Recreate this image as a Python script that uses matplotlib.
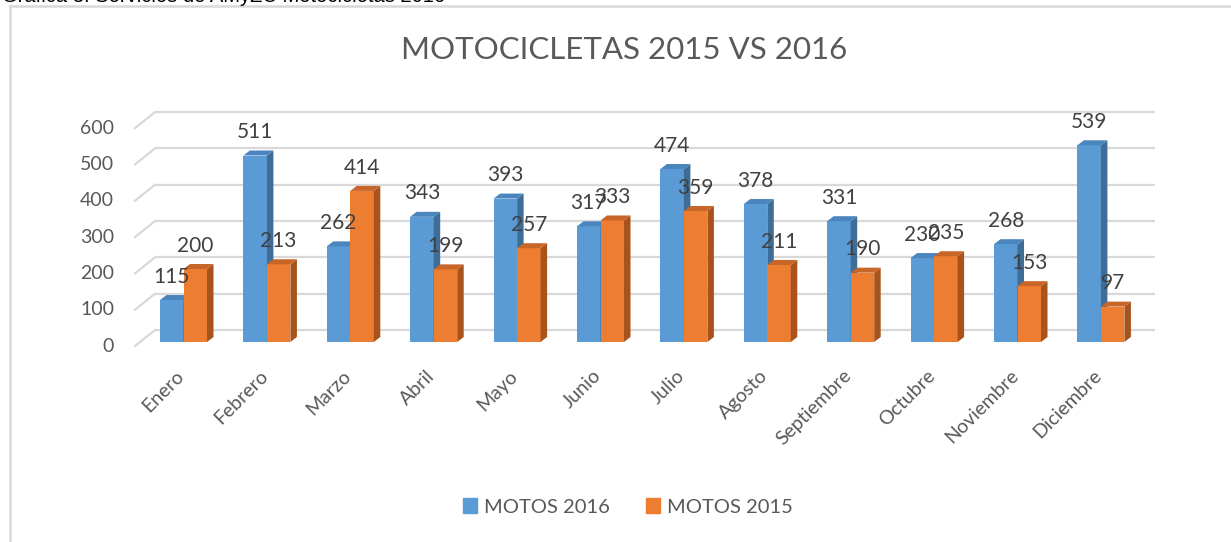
import matplotlib
matplotlib.use("Agg")
import matplotlib.pyplot as plt
from matplotlib.patches import Polygon
from matplotlib.lines import Line2D

months = ["Enero", "Febrero", "Marzo", "Abril", "Mayo", "Junio", "Julio",
          "Agosto", "Septiembre", "Octubre", "Noviembre", "Diciembre"]
motos_2016 = [115, 511, 262, 343, 393, 317, 474, 378, 331, 230, 268, 539]
motos_2015 = [200, 213, 414, 199, 257, 333, 359, 211, 190, 235, 153, 97]
y_ticks = [0, 100, 200, 300, 400, 500, 600]
title = "MOTOCICLETAS 2015 VS 2016"
series_names = ["MOTOS 2016", "MOTOS 2015"]

W, H = 1231, 542
fig = plt.figure(figsize=(W / 100, H / 100), dpi=100)
plt.rcParams['font.family'] = ['Lato', 'DejaVu Sans']

# pixel geometry helpers
PX_CAT = 83.4      # px per category
X0_PX = 183.5      # px of category 0 centre
UPP = 2.74         # data units per px (vertical)
BASE_PX = 342      # px of y=0 at bar front
ax_left_px, ax_right_px = 125, 1170
ax_top_px, ax_bot_px = 95, 372
ax = fig.add_axes([ax_left_px / W, 1 - ax_bot_px / H,
                   (ax_right_px - ax_left_px) / W, (ax_bot_px - ax_top_px) / H])
ax.set_xlim((ax_left_px - X0_PX) / PX_CAT, (ax_right_px - X0_PX) / PX_CAT)
ax.set_ylim(-(ax_bot_px - BASE_PX) * UPP, (BASE_PX - ax_top_px) * UPP)
ax.axis('off')

def xu(px):
    return px / PX_CAT

# back wall gridlines and side diagonals
wall_dy = 12 * UPP
diag_dx, diag_dy = xu(20), 16 * UPP
x_back0 = (155 - X0_PX) / PX_CAT
x_back1 = (1155 - X0_PX) / PX_CAT
grid_c = '#D9D9D9'
for v in y_ticks:
    yb = v * 0.995 + wall_dy
    ax.plot([x_back0, x_back1], [yb, yb], color=grid_c, lw=1.6, zorder=1,
            solid_capstyle='butt')
    ax.plot([x_back0 - diag_dx, x_back0], [yb - diag_dy, yb], color=grid_c,
            lw=1.6, zorder=1)
    ax.text((114 - X0_PX) / PX_CAT, yb - diag_dy, str(v), ha='right',
            va='center', fontsize=14, color='#595959')

# 3D bars
bw = 23.5 / PX_CAT
sdx, sdy = xu(6.5), 5 * UPP
colors = [('#5B9BD5', '#3E6D98', '#4A85BE'), ('#ED7D31', '#A8521C', '#C8662A')]
x = list(range(len(months)))
for si, vals in enumerate([motos_2016, motos_2015]):
    front, side, top = colors[si]
    lefts = [i - bw + si * bw for i in x]
    ax.bar(lefts, vals, width=bw, align='edge', color=front, zorder=3 + si)
    for l, v in zip(lefts, vals):
        r = l + bw
        ax.add_patch(Polygon([[r, 0], [r + sdx, sdy], [r + sdx, v + sdy], [r, v]],
                             closed=True, facecolor=side, edgecolor='none',
                             zorder=3 + si))
        ax.add_patch(Polygon([[l, v], [l + sdx, v + sdy], [r + sdx, v + sdy], [r, v]],
                             closed=True, facecolor=top, edgecolor='none',
                             zorder=3 + si))
        ax.text(l + bw / 2, v + 64, str(v), ha='center', va='center',
                fontsize=15, color='#404040', zorder=10)

# category labels
for i, m in zip(x, months):
    ax.text(i - xu(8), -25 * UPP, m, rotation=45, rotation_mode='anchor',
            ha='right', va='top', fontsize=14, color='#595959')

# title
fig.text(624 / W, 1 - 50 / H, title, ha='center', va='center', fontsize=22.5,
         color='#595959')

# legend
handles = [plt.Rectangle((0, 0), 1, 1, color=colors[0][0]),
           plt.Rectangle((0, 0), 1, 1, color=colors[1][0])]
fig.legend(handles, series_names, loc='center', bbox_to_anchor=(628 / W, 1 - 507 / H),
           ncol=2, frameon=False, handlelength=0.7, handleheight=0.7,
           handletextpad=0.35, columnspacing=1.8, fontsize=14.5,
           labelcolor='#595959')

# chart frame (partially cut off)
fig.add_artist(Line2D([9.5 / W, 9.5 / W], [0, 1 - 5.5 / H], transform=fig.transFigure,
                      color='#D9D9D9', lw=1.8))
fig.add_artist(Line2D([9.5 / W, 1], [1 - 5.5 / H, 1 - 5.5 / H], transform=fig.transFigure,
                      color='#D9D9D9', lw=1.8))

# caption clipped at the top
fig.text(2 / W, 1 - 1.5 / H, "Gráfica 3. Servicios de AMyZC Motocicletas 2016",
         ha='left', va='baseline', fontsize=14.5, family=['Liberation Sans', 'DejaVu Sans'],
         color='black')

fig.savefig('out.png', dpi=100)
